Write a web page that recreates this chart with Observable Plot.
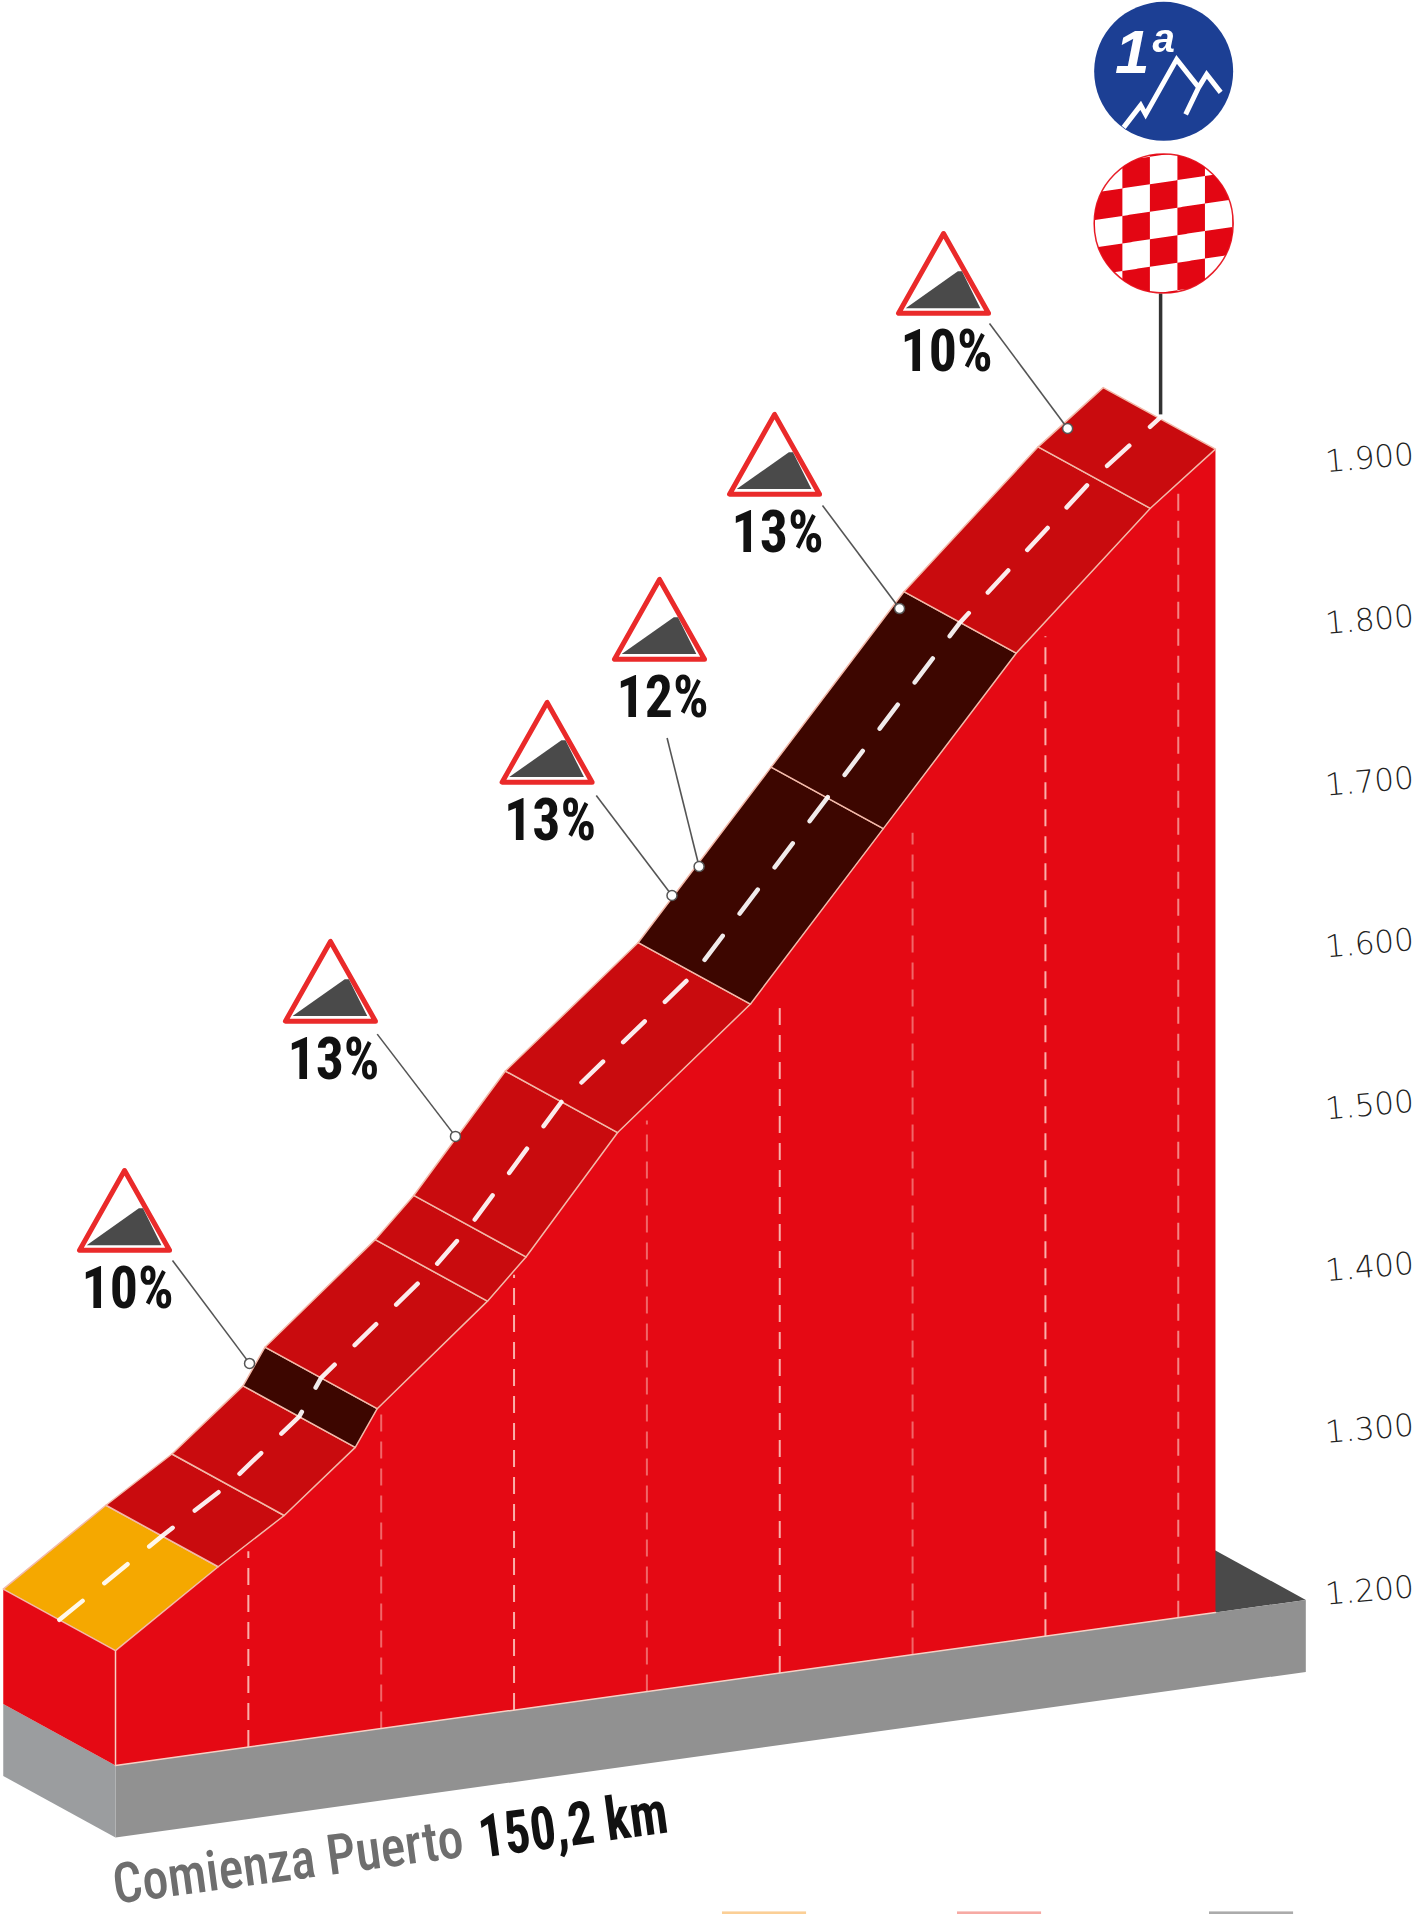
<!DOCTYPE html>
<html><head><meta charset="utf-8">
<style>html,body{margin:0;padding:0;background:#fff}svg{display:block}</style>
<script src="https://cdn.jsdelivr.net/npm/d3@7"></script>
<script src="https://cdn.jsdelivr.net/npm/@observablehq/plot@0.6"></script>
</head><body><div id="chart"></div>
<script>
// Climb profile: boundaries along the road (km from the foot) and their altitude (m)
const roadKm   = [0, 0.773, 1.27, 1.805, 1.97, 2.80, 3.09, 3.78, 4.78, 5.78, 6.78, 7.79, 8.28];
const roadElev = [1271, 1314, 1340, 1376, 1398, 1455, 1479, 1548, 1616, 1713, 1810, 1888, 1919];
const roadGrade = ["easy","hard","hard","steep","hard","hard","hard","hard","steep","steep","hard","hard"];
const gradeNames = ["easy","hard","steep"];
const gradeColors = ["#f5a800","#c90b0e","#3d0600"];
// Kilometre posts
const postKm   = [1,2,3,4,5,6,7,8];
const postTop  = [1321,1395,1469,1553,1612,1708,1818,1897];
const postOpacity = [0.8,0.45,0.8,0.45,0.8,0.45,0.8,0.6];
// Altitude scale
const tickElev = [1200,1300,1400,1500,1600,1700,1800,1900];
const tickKm = 9.44;
// Gradient signs
const signText = ["10%","13%","13%","12%","13%","10%"];
const signKm = [0.068,1.618,3.249,4.095,4.961,6.233];
const signAlt = [1518.4,1660,1807.7,1883.7,1985.7,2097.5];
const leaderKm = [0.429,1.970,3.619,4.152,5.322,6.579];
const leaderAlt = [1512.1,1652,1799.5,1835,1978.7,2091.2];
const dotKm = [1.009,2.559,4.189,4.393,5.902,7.167];
const dotAlt = [1448.5,1588.8,1737.7,1755.6,1915,2026.3];
// Summit badges
const summitKm = 7.89, poleKm = 7.867;
const badgeAlt = 2247, flagAlt = 2153, poleTopAlt = 2109.8, poleFootAlt = 2035;
const baseElev = 1200, plinthElev = 1155.5, endKm = 8.96;
// Bottom edge of the legend swatches, cut off by the picture
const swatchFrom = [4.569, 6.338, 8.235];
const swatchTo = [5.202, 6.971, 8.868];
const swatchColor = ["#fbcf96", "#f6aaa4", "#ababab"];
const swatchLow = 1107.9, swatchHigh = 1109.5;
// Projection of the oblique drawing: each km rises a little, depth moves back
const shear = 11.42, depthKm = -0.845, depthAlt = 38;
const px = (km, d = 0) => km + depthKm * d;
const py = (km, elev, d = 0) => elev + shear * km + depthAlt * d;
const P = (id, km, elev, d = 0) => ({id, x: px(km, d), y: py(km, elev, d)});

const lastKm = roadKm[roadKm.length - 1];
const wall = [
  ...roadKm.map((k, i) => P("wall", k, roadElev[i])),
  P("wall", lastKm, baseElev), P("wall", 0, baseElev)
];
const leftWall = [P("l", 0, roadElev[0]), P("l", 0, roadElev[0], 1), P("l", 0, baseElev, 1), P("l", 0, baseElev)];
const leftPlinth = [P("p", 0, baseElev), P("p", 0, baseElev, 1), P("p", 0, plinthElev, 1), P("p", 0, plinthElev)];
const frontPlinth = [P("f", 0, baseElev), P("f", endKm, baseElev), P("f", endKm, plinthElev), P("f", 0, plinthElev)];
const floor = [P("g", lastKm, baseElev), P("g", endKm, baseElev), P("g", endKm, baseElev, 1), P("g", lastKm, baseElev, 1)];
const road = roadGrade.flatMap((g, i) => [
  [i, i, 0], [i + 1, i + 1, 0], [i + 1, i + 1, 1], [i, i, 1]
].map(([a, b, d]) => ({...P(i, roadKm[a], roadElev[b], d), grade: g})));
const centre = roadKm.map((k, i) => P("c", k, roadElev[i], 0.5));
const posts = postKm.map((k, i) => ({x: k, y1: py(k, baseElev), y2: py(k, postTop[i]), o: postOpacity[i]}));
const ticks = tickElev.map(e => ({x: tickKm, y: py(tickKm, e), t: d3.format(".3f")(e / 1000)}));
const signs = signText.map((t, i) => ({t, x: signKm[i], y: signAlt[i], lx: leaderKm[i], ly: leaderAlt[i], dx: dotKm[i], dy: dotAlt[i]}));
const swatches = swatchFrom.map((x1, i) => ({x1, x2: swatchTo[i], c: swatchColor[i]}));

// Custom glyphs for Plot.dot: r is the size unit
const R = size => Math.sqrt(size / Math.PI);
const signSym = {draw(c, s) { const k = R(s) / 44; c.moveTo(-44*k, 0); c.lineTo(44*k, 0); c.lineTo(0, -78*k); c.closePath(); }};
const wedgeSym = {draw(c, s) { const k = R(s) / 44; c.moveTo(-37*k, -5*k); c.lineTo(14*k, -41*k); c.lineTo(18*k, -41*k); c.lineTo(36*k, -5*k); c.closePath(); }};
const mountainSym = {draw(c, s) { const k = R(s) / 69.5;
  c.moveTo(-40*k, 56*k); c.lineTo(-23*k, 34*k); c.lineTo(-18*k, 43*k); c.lineTo(13*k, -12*k); c.lineTo(35*k, 16*k); c.lineTo(22*k, 43*k);
  c.moveTo(35*k, 16*k); c.lineTo(43*k, 3*k); c.lineTo(57*k, 21*k);
}};
const checkSym = {draw(c, s) { const r = R(s), n = r * 0.396, sk = -0.15;
  for (let i = -3; i <= 3; i++) for (let j = -3; j <= 3; j++) {
    if (((i + j) % 2) === 0) continue;
    const x0 = (i - .5) * n, x1 = (i + .5) * n;
    const corners = [[x0, j - .5], [x1, j - .5], [x1, j + .5], [x0, j + .5]];
    const pts = [];
    corners.forEach((p, e) => { const q = corners[(e + 1) % 4];
      for (let t = 0; t < 16; t++) { const u = t / 16;
        let x = p[0] + (q[0] - p[0]) * u, y = ((p[1] + (q[1] - p[1]) * u) * n) + sk * x;
        const m = Math.hypot(x, y); if (m > r) { x *= r / m; y *= r / m; }
        pts.push([x, y]); }
    });
    pts.forEach(([x, y], t) => t ? c.lineTo(x, y) : c.moveTo(x, y));
    c.closePath();
  }
}};

const narrow = "'Liberation Sans Narrow','Roboto Condensed',Roboto,sans-serif";
const poly = (data, fill) => Plot.line(data, {x: "x", y: "y", z: "id", fill, stroke: "none", curve: "linear-closed"});
const chart = Plot.plot({
  width: 1425, height: 1914, margin: 0,
  x: {domain: [-0.8657, 9.861], range: [0, 1425], axis: null},
  y: {domain: [1107.9, 2290.8], range: [1914, 0], axis: null},
  color: {domain: gradeNames, range: gradeColors},
  style: {background: "#fff"},
  marks: [
    poly(floor, "#4a4a4a"),
    poly(frontPlinth, "#919191"),
    poly(leftPlinth, "#9b9d9f"),
    poly(leftWall, "#e50914"),
    poly(wall, "#e50914"),
    Plot.link(posts, {x1: "x", x2: "x", y1: "y1", y2: "y2", stroke: "#ffd9cf", strokeWidth: 2, strokeOpacity: "o", strokeDasharray: "17 10"}),
    Plot.line([P("b", 0, baseElev), P("b", lastKm, baseElev)], {x: "x", y: "y", stroke: "#f6cfc4", strokeWidth: 1.5}),
    Plot.line([P("v", 0, roadElev[0]), P("v", 0, baseElev)], {x: "x", y: "y", stroke: "#f6cfc4", strokeWidth: 1.5}),
    Plot.line(road, {x: "x", y: "y", z: "id", fill: "grade", stroke: "#f3b9a9", strokeWidth: 1.5, curve: "linear-closed"}),
    Plot.line(centre, {x: "x", y: "y", stroke: "#fff", strokeOpacity: 0.92, strokeWidth: 4.5, strokeDasharray: "30 28"}),
    Plot.link(signs, {x1: "lx", y1: "ly", x2: "dx", y2: "dy", stroke: "#555", strokeWidth: 1.6}),
    Plot.dot(signs, {x: "dx", y: "dy", r: 5, fill: "#fff", stroke: "#555", strokeWidth: 1.5}),
    Plot.dot(signs, {x: "x", y: "y", r: 45, symbol: signSym, fill: "#fff", stroke: "#ea2a2a", strokeWidth: 5, strokeLinejoin: "round"}),
    Plot.dot(signs, {x: "x", y: "y", r: 45, symbol: wedgeSym, fill: "#4a4a4a", stroke: "none"}),
    Plot.text(signs, {x: "x", y: "y", text: "t", dx: 3, dy: 39, className: "pct", fontFamily: narrow, fontWeight: 700, fontSize: 60, fill: "#111"}),
    Plot.text(ticks, {x: "x", y: "y", text: "t", rotate: -5, fontFamily: "'DejaVu Sans'", fontWeight: 200, fontSize: 31, fill: "#222"}),
    Plot.link([{x: poleKm, y1: poleFootAlt, y2: poleTopAlt}], {x1: "x", x2: "x", y1: "y1", y2: "y2", stroke: "#333", strokeWidth: 3.5}),
    Plot.dot([{x: summitKm, y: badgeAlt}], {x: "x", y: "y", r: 69.5, fill: "#1c3f94", stroke: "none"}),
    Plot.dot([{x: summitKm, y: badgeAlt}], {x: "x", y: "y", r: 69.5, symbol: mountainSym, fill: "none", stroke: "#fff", strokeWidth: 5}),
    Plot.text([{x: summitKm, y: badgeAlt}], {x: "x", y: "y", text: () => "1ª", dx: -20, dy: -18, fontFamily: "'Liberation Sans'", fontStyle: "italic", fontWeight: 700, fontSize: 62, fill: "#fff"}),
    Plot.dot([{x: summitKm, y: flagAlt}], {x: "x", y: "y", r: 69.5, fill: "#fff", stroke: "#e8202a", strokeWidth: 1.5}),
    Plot.dot([{x: summitKm, y: flagAlt}], {x: "x", y: "y", r: 69.5, symbol: checkSym, fill: "#e30613", stroke: "none"}),
    Plot.text([{x: 0, y: 1114.5}], {x: "x", y: "y", text: () => "Comienza Puerto", className: "lab1", textAnchor: "start", lineAnchor: "bottom", rotate: -7.7, fontFamily: narrow, fontWeight: 500, fontSize: 56, fill: "#6e6e6e"}),
    Plot.text([{x: 2.755, y: 1143}], {x: "x", y: "y", text: () => "150,2 km", className: "lab2", textAnchor: "start", lineAnchor: "bottom", rotate: -7.7, fontFamily: narrow, fontWeight: 700, fontSize: 60, fill: "#111"}),
    Plot.rect(swatches, {x1: "x1", x2: "x2", y1: swatchLow, y2: swatchHigh, fill: "c", inset: 0})
  ]
});
// The reference's lettering is condensed: fit the real text to its measured length
const fit = (cls, len) => d3.select(chart).selectAll(`.${cls} text`).attr("textLength", len).attr("lengthAdjust", "spacingAndGlyphs");
fit("pct", 92); fit("lab1", 353); fit("lab2", 190);
document.getElementById("chart").append(chart);
</script></body></html>
